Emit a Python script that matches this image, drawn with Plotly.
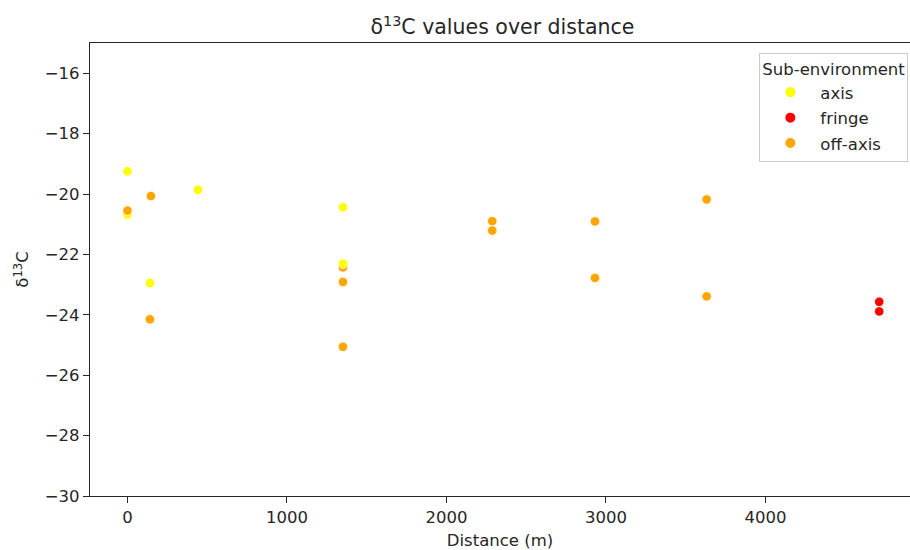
import plotly.graph_objects as go

# Data (drawing order matters for overlaps)
distance = [0, 0, 0, 141, 147, 141, 442, 1351, 1351, 1351, 1351, 1351,
            2287, 2287, 2931, 2931, 3631, 3631, 4713, 4713]
d13c = [-19.25, -20.68, -20.55, -22.95, -20.07, -24.15, -19.86, -20.44, -22.43, -22.31, -22.91, -25.06,
        -20.90, -21.21, -20.91, -22.78, -20.18, -23.39, -23.57, -23.89]
subenv = ["axis", "axis", "off-axis", "axis", "off-axis", "off-axis", "axis", "axis", "off-axis", "axis",
          "off-axis", "off-axis", "off-axis", "off-axis", "off-axis", "off-axis", "off-axis", "off-axis",
          "fringe", "fringe"]
categories = ["axis", "fringe", "off-axis"]
palette = {"axis": "#FFFF00", "fringe": "#FF0000", "off-axis": "#FFA500"}
y_ticks = [-30, -28, -26, -24, -22, -20, -18, -16]
x_ticks = [0, 1000, 2000, 3000, 4000]

font = "DejaVu Sans"
fs = 16.5
fig = go.Figure()
fig.add_trace(go.Scatter(
    x=distance, y=d13c, mode="markers", showlegend=False, hoverinfo="x+y",
    marker=dict(size=9.5, color=[palette[s] for s in subenv],
                line=dict(color="white", width=0.8)),
))
for c in categories:
    fig.add_trace(go.Scatter(
        x=[None], y=[None], mode="markers", name=c, legendgroup=c,
        marker=dict(size=12, color=palette[c], line=dict(color="white", width=0.8)),
    ))

fig.update_layout(
    width=910, height=550,
    margin=dict(l=90, r=0, t=43, b=54),
    paper_bgcolor="white", plot_bgcolor="white",
    font=dict(family=font, size=fs, color="#262626"),
    title=dict(text="δ<sup>13</sup>C values over distance", x=502.5 / 910, xanchor="center",
               xref="container", y=1 - 27 / 550, yanchor="middle",
               font=dict(size=20.5, color="#262626")),
    legend=dict(
        title=dict(text="Sub-environment", side="top", font=dict(size=fs)),
        x=0.998, xanchor="right", y=0.979, yanchor="top",
        bgcolor="rgba(255,255,255,0.8)", bordercolor="#cccccc", borderwidth=1,
        font=dict(size=fs), itemsizing="constant", itemwidth=50,
        tracegroupgap=1,
    ),
    xaxis=dict(
        range=[-235, 4906], tickvals=x_ticks, ticktext=[str(v) for v in x_ticks],
        showgrid=False, zeroline=False, showline=True, linecolor="#262626", linewidth=1.2,
        mirror=True, ticks="outside", ticklen=6, tickcolor="#262626",
        title=dict(text="Distance (m)", standoff=9, font=dict(size=fs)),
        automargin=False,
    ),
    yaxis=dict(
        range=[-30, -15], tickvals=y_ticks, ticktext=["−" + str(abs(v)) for v in y_ticks],
        showgrid=False, zeroline=False, showline=True, linecolor="#262626", linewidth=1.2,
        mirror=False, ticks="outside", ticklen=6, tickcolor="#262626",
        title=dict(text="δ<sup>13</sup>C", standoff=11, font=dict(size=fs)),
        automargin=False,
    ),
)
fig.write_html("out.html")
